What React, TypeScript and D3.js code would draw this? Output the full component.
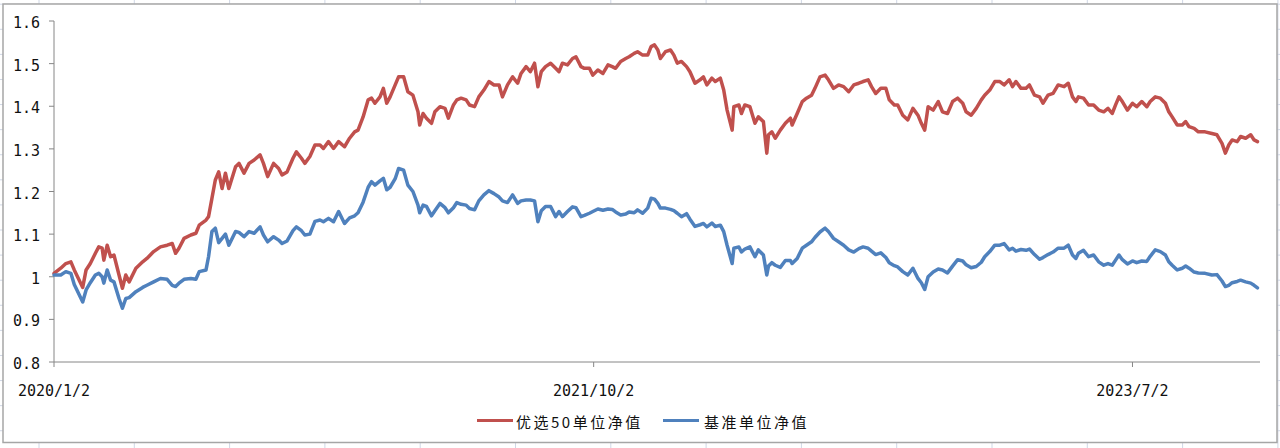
import React from "react";
import * as d3 from "d3";

const dates: string[] = [
  "2020-01-02","2020-01-10","2020-01-16","2020-01-22","2020-01-26","2020-02-05","2020-02-09","2020-02-14","2020-02-20","2020-02-24",
  "2020-02-28","2020-03-01","2020-03-05","2020-03-09","2020-03-13","2020-03-19","2020-03-23","2020-03-27","2020-03-31","2020-04-08",
  "2020-04-16","2020-04-21","2020-04-29","2020-05-07","2020-05-15","2020-05-21","2020-05-25","2020-05-29","2020-06-04","2020-06-12",
  "2020-06-18","2020-06-22","2020-06-30","2020-07-03","2020-07-07","2020-07-11","2020-07-15","2020-07-19","2020-07-23","2020-07-27",
  "2020-08-04","2020-08-08","2020-08-14","2020-08-20","2020-08-26","2020-09-02","2020-09-06","2020-09-11","2020-09-18","2020-09-24",
  "2020-09-28","2020-10-04","2020-10-11","2020-10-15","2020-10-21","2020-10-25","2020-10-31","2020-11-06","2020-11-12","2020-11-16",
  "2020-11-22","2020-11-28","2020-12-04","2020-12-11","2020-12-17","2020-12-23","2020-12-27","2021-01-02","2021-01-08","2021-01-12",
  "2021-01-16","2021-01-22","2021-01-26","2021-01-30","2021-02-03","2021-02-09","2021-02-13","2021-02-19","2021-02-24","2021-03-02",
  "2021-03-08","2021-03-10","2021-03-14","2021-03-18","2021-03-24","2021-03-28","2021-04-03","2021-04-09","2021-04-13","2021-04-19",
  "2021-04-23","2021-04-28","2021-05-04","2021-05-08","2021-05-14","2021-05-19","2021-05-25","2021-05-31","2021-06-06","2021-06-12",
  "2021-06-16","2021-06-22","2021-06-28","2021-07-04","2021-07-08","2021-07-14","2021-07-19","2021-07-24","2021-07-28","2021-08-01",
  "2021-08-06","2021-08-12","2021-08-18","2021-08-22","2021-08-26","2021-09-01","2021-09-07","2021-09-11","2021-09-17","2021-09-21",
  "2021-09-27","2021-10-01","2021-10-07","2021-10-13","2021-10-19","2021-10-24","2021-10-28","2021-11-03","2021-11-09","2021-11-13",
  "2021-11-19","2021-11-23","2021-11-29","2021-12-05","2021-12-09","2021-12-13","2021-12-17","2021-12-20","2021-12-26","2022-01-01",
  "2022-01-05","2022-01-09","2022-01-14","2022-01-20","2022-01-24","2022-01-30","2022-02-05","2022-02-09","2022-02-13","2022-02-19",
  "2022-02-23","2022-03-01","2022-03-05","2022-03-09","2022-03-15","2022-03-17","2022-03-23","2022-03-26","2022-03-30","2022-04-05",
  "2022-04-11","2022-04-15","2022-04-21","2022-04-25","2022-04-27","2022-05-01","2022-05-05","2022-05-11","2022-05-17","2022-05-23",
  "2022-05-25","2022-05-31","2022-06-06","2022-06-11","2022-06-17","2022-06-21","2022-06-27","2022-07-03","2022-07-07","2022-07-13",
  "2022-07-19","2022-07-25","2022-07-31","2022-08-06","2022-08-12","2022-08-17","2022-08-23","2022-08-27","2022-09-01","2022-09-07",
  "2022-09-13","2022-09-17","2022-09-23","2022-09-27","2022-10-03","2022-10-09","2022-10-15","2022-10-21","2022-10-25","2022-10-29",
  "2022-11-02","2022-11-08","2022-11-14","2022-11-19","2022-11-25","2022-12-01","2022-12-07","2022-12-13","2022-12-17","2022-12-23",
  "2022-12-29","2023-01-04","2023-01-08","2023-01-14","2023-01-20","2023-01-26","2023-01-31","2023-02-06","2023-02-10","2023-02-14",
  "2023-02-20","2023-02-26","2023-03-02","2023-03-08","2023-03-14","2023-03-18","2023-03-24","2023-03-30","2023-04-05","2023-04-12",
  "2023-04-17","2023-04-22","2023-04-26","2023-04-29","2023-05-05","2023-05-11","2023-05-17","2023-05-23","2023-05-29","2023-06-03",
  "2023-06-08","2023-06-12","2023-06-16","2023-06-20","2023-06-26","2023-07-02","2023-07-07","2023-07-13","2023-07-19","2023-07-23",
  "2023-07-29","2023-08-04","2023-08-10","2023-08-14","2023-08-18","2023-08-24","2023-08-30","2023-09-03","2023-09-07","2023-09-13",
  "2023-09-18","2023-09-26","2023-10-04","2023-10-10","2023-10-16","2023-10-20","2023-10-24","2023-10-28","2023-11-03","2023-11-07",
  "2023-11-13","2023-11-19","2023-11-23","2023-11-27",
];

const youxuan50: number[] = [
  1.008,1.020,1.031,1.035,1.016,0.975,1.016,1.031,1.055,1.070,
  1.067,1.039,1.074,1.047,1.051,1.004,0.973,1.004,0.988,1.020,
  1.035,1.043,1.059,1.070,1.074,1.078,1.055,1.067,1.090,1.098,
  1.102,1.121,1.133,1.141,1.184,1.227,1.246,1.207,1.243,1.207,
  1.258,1.266,1.243,1.266,1.274,1.286,1.266,1.235,1.266,1.254,
  1.239,1.246,1.278,1.293,1.278,1.266,1.282,1.309,1.309,1.301,
  1.317,1.301,1.317,1.305,1.325,1.340,1.344,1.375,1.415,1.419,
  1.407,1.422,1.442,1.407,1.422,1.450,1.469,1.469,1.434,1.426,
  1.387,1.356,1.383,1.372,1.360,1.387,1.399,1.395,1.372,1.403,
  1.415,1.419,1.415,1.403,1.399,1.422,1.438,1.458,1.450,1.450,
  1.422,1.450,1.469,1.454,1.477,1.493,1.481,1.501,1.446,1.481,
  1.493,1.501,1.489,1.481,1.501,1.497,1.512,1.516,1.493,1.489,
  1.489,1.473,1.485,1.477,1.497,1.493,1.489,1.505,1.512,1.516,
  1.524,1.528,1.520,1.520,1.540,1.544,1.532,1.512,1.528,1.532,
  1.520,1.501,1.505,1.493,1.481,1.454,1.462,1.469,1.450,1.466,
  1.458,1.466,1.438,1.391,1.344,1.399,1.403,1.383,1.403,1.399,
  1.360,1.375,1.364,1.290,1.333,1.340,1.325,1.344,1.360,1.372,
  1.356,1.383,1.411,1.419,1.426,1.442,1.469,1.473,1.462,1.442,
  1.450,1.446,1.434,1.450,1.454,1.458,1.462,1.446,1.430,1.442,
  1.442,1.415,1.403,1.403,1.379,1.368,1.395,1.379,1.360,1.344,
  1.399,1.391,1.411,1.387,1.383,1.411,1.419,1.407,1.387,1.379,
  1.395,1.415,1.426,1.438,1.458,1.458,1.450,1.462,1.446,1.458,
  1.442,1.442,1.450,1.426,1.422,1.407,1.426,1.430,1.450,1.446,
  1.454,1.422,1.411,1.422,1.419,1.403,1.403,1.391,1.387,1.395,
  1.383,1.403,1.422,1.411,1.391,1.407,1.399,1.411,1.399,1.411,
  1.422,1.419,1.407,1.387,1.375,1.356,1.356,1.364,1.352,1.348,
  1.340,1.340,1.336,1.333,1.313,1.290,1.309,1.321,1.317,1.329,
  1.325,1.333,1.321,1.317,
];

const benchmark: number[] = [
  1.004,1.004,1.012,1.008,0.982,0.941,0.969,0.986,1.004,1.008,
  1.000,0.985,1.016,0.992,0.988,0.949,0.926,0.949,0.951,0.965,
  0.975,0.980,0.988,0.996,0.994,0.980,0.977,0.985,0.994,0.996,
  0.994,1.012,1.016,1.047,1.106,1.114,1.080,1.090,1.100,1.074,
  1.106,1.104,1.094,1.106,1.102,1.117,1.098,1.082,1.094,1.086,
  1.078,1.084,1.108,1.117,1.108,1.098,1.100,1.130,1.133,1.129,
  1.137,1.129,1.153,1.125,1.138,1.143,1.150,1.175,1.210,1.223,
  1.215,1.225,1.231,1.204,1.210,1.230,1.254,1.250,1.215,1.200,
  1.168,1.150,1.168,1.165,1.143,1.155,1.172,1.162,1.150,1.162,
  1.174,1.170,1.168,1.160,1.157,1.178,1.192,1.202,1.195,1.187,
  1.178,1.174,1.192,1.172,1.178,1.180,1.180,1.178,1.129,1.155,
  1.165,1.165,1.141,1.153,1.141,1.153,1.164,1.162,1.141,1.144,
  1.149,1.153,1.159,1.156,1.159,1.158,1.152,1.145,1.147,1.152,
  1.150,1.157,1.149,1.161,1.184,1.182,1.172,1.161,1.161,1.158,
  1.155,1.149,1.141,1.148,1.135,1.118,1.122,1.125,1.117,1.126,
  1.118,1.121,1.106,1.074,1.031,1.067,1.070,1.058,1.065,1.070,
  1.047,1.063,1.051,1.004,1.025,1.033,1.027,1.022,1.038,1.038,
  1.031,1.043,1.067,1.074,1.082,1.092,1.105,1.114,1.106,1.090,
  1.082,1.074,1.063,1.058,1.066,1.070,1.067,1.060,1.052,1.056,
  1.045,1.033,1.026,1.023,1.012,1.004,1.020,0.996,0.986,0.970,
  1.000,1.011,1.018,1.016,1.009,1.025,1.040,1.037,1.028,1.021,
  1.024,1.034,1.047,1.059,1.074,1.074,1.078,1.063,1.067,1.060,
  1.064,1.062,1.065,1.052,1.041,1.045,1.052,1.058,1.067,1.067,
  1.074,1.051,1.043,1.055,1.062,1.047,1.051,1.035,1.027,1.031,
  1.027,1.039,1.051,1.040,1.030,1.037,1.033,1.037,1.036,1.048,
  1.063,1.059,1.051,1.035,1.027,1.016,1.020,1.025,1.020,1.011,
  1.009,1.008,1.004,1.005,0.990,0.977,0.980,0.986,0.989,0.992,
  0.988,0.985,0.980,0.974,
];

const seriesNames: string[] = ["优选50单位净值", "基准单位净值"];
const seriesColors: string[] = ["#C0504D", "#4F81BD"];
const yTicks: number[] = [0.8, 0.9, 1.0, 1.1, 1.2, 1.3, 1.4, 1.5, 1.6];
const xTickLabels: string[] = ["2020/1/2", "2021/10/2", "2023/7/2"];
const xDomain: string[] = ["2020-01-02", "2023-11-30"];

const W = 1280;
const H = 448;
const plot = { left: 54, right: 1260, top: 21, bottom: 362 };

export default function App() {
  const parse = d3.utcParse("%Y-%m-%d");
  const parseTick = d3.utcParse("%Y/%m/%d");
  const x = d3
    .scaleUtc()
    .domain([parse(xDomain[0])!, parse(xDomain[1])!])
    .range([plot.left, plot.right]);
  const y = d3.scaleLinear().domain([0.8, 1.6]).range([plot.bottom, plot.top]);

  const parsedDates = dates.map((d) => parse(d)!);
  const line = d3
    .line<number>()
    .x((_, i) => x(parsedDates[i]))
    .y((v) => y(v))
    .curve(d3.curveLinear);

  const series = [youxuan50, benchmark];
  const fmtY = (v: number) => d3.format("")(+v.toFixed(1)).replace(/\.0$/, "");

  // Excel sheet gridlines behind the chart
  const gridCols = d3.range(0, 14).map((k) => 39 + 95.3 * k);
  const gridRows = d3.range(0, 19).map((k) => 4.2 + 25.09 * k);

  const axisColor = "#868686";
  const monoFont = "'DejaVu Sans Mono', 'Liberation Mono', monospace";
  const cjkFont = "'Noto Sans CJK SC', 'Noto Sans', sans-serif";

  return (
    <div style={{ position: "absolute", left: 0, top: 0 }}>
      <svg width={W} height={H} style={{ display: "block", background: "#fff" }}>
        {gridCols.map((gx, i) => (
          <line key={"gc" + i} x1={gx} x2={gx} y1={0} y2={H} stroke="#D0D7E5" strokeWidth={1} />
        ))}
        {gridRows.map((gy, i) => (
          <line key={"gr" + i} x1={0} x2={W} y1={gy} y2={gy} stroke="#D0D7E5" strokeWidth={1} />
        ))}
        <rect x={3} y={4} width={1274} height={438.5} fill="#fff" stroke="#a6a6a6" strokeWidth={1.5} />

        {/* Y axis */}
        <line x1={plot.left} x2={plot.left} y1={plot.top} y2={plot.bottom} stroke={axisColor} strokeWidth={1} />
        {yTicks.map((t) => (
          <g key={"yt" + t}>
            <line x1={plot.left - 5} x2={plot.left} y1={y(t)} y2={y(t)} stroke={axisColor} strokeWidth={1} />
            <text
              x={40}
              y={y(t) + 2}
              textAnchor="end"
              dominantBaseline="central"
              fontFamily={monoFont}
              fontSize={15}
              fill="#111"
            >
              {fmtY(t)}
            </text>
          </g>
        ))}

        {/* X axis */}
        <line x1={plot.left} x2={plot.right} y1={plot.bottom} y2={plot.bottom} stroke={axisColor} strokeWidth={1} />
        {xTickLabels.map((lbl) => {
          const tx = x(parseTick(lbl)!);
          return (
            <g key={"xt" + lbl}>
              <line x1={tx} x2={tx} y1={plot.bottom} y2={plot.bottom + 5} stroke={axisColor} strokeWidth={1} />
              <text
                x={tx}
                y={391}
                textAnchor="middle"
                dominantBaseline="central"
                fontFamily={monoFont}
                fontSize={15}
                fill="#111"
              >
                {lbl}
              </text>
            </g>
          );
        })}

        {/* Lines */}
        {series.map((vals, si) => (
          <path
            key={"s" + si}
            d={line(vals) || ""}
            fill="none"
            stroke={seriesColors[si]}
            strokeWidth={3.5}
            strokeLinejoin="round"
            strokeLinecap="round"
          />
        ))}

        {/* Legend */}
        {seriesNames.map((name, i) => {
          const lx = [477, 663][i];
          const tx = [516, 704][i];
          return (
            <g key={"lg" + i}>
              <line x1={lx} x2={lx + 36} y1={420.5} y2={420.5} stroke={seriesColors[i]} strokeWidth={3} />
              <text
                x={tx}
                y={421}
                dominantBaseline="central"
                fontFamily={cjkFont}
                fontSize={15}
                letterSpacing={2.5}
                fill="#111"
              >
                {name}
              </text>
            </g>
          );
        })}
      </svg>
    </div>
  );
}
